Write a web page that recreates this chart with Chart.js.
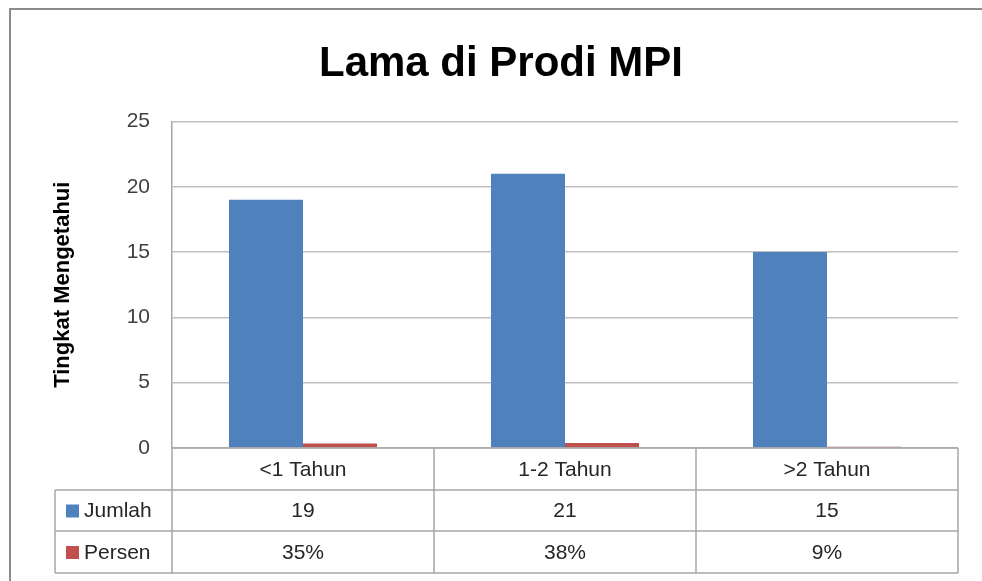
<!DOCTYPE html>
<html lang="id">
<head>
    <meta charset="UTF-8">
    <title>Lama di Prodi MPI</title>
    <style>
        html, body {
            margin: 0;
            padding: 0;
            background: #fff;
        }
        #wrap {
            width: 982px;
            height: 581px;
        }
    </style>
    <script src="https://cdn.jsdelivr.net/npm/chart.js"></script>
</head>
<body>
    <div id="wrap"><canvas id="myChart"></canvas></div>

    <script>
        // data
        const categories = ['<1 Tahun', '1-2 Tahun', '>2 Tahun'];
        const jumlah = [19, 21, 15];
        const persen = [0.35, 0.38, 0.09];   // Excel plotted the % values as fractions
        const yTicks = [0, 5, 10, 15, 20, 25];

        const seriesNames = ['Jumlah', 'Persen'];
        const seriesColors = ['#4F81BD', '#C0504D'];
        const FONT = "'Liberation Sans', Arial, sans-serif";

        function fmtPct(v) {
            return Math.round(v * 100) + '%';
        }

        // frame + data table under the plot, positioned from the x scale
        const dataTable = {
            id: 'dataTable',
            afterDraw(chart) {
                const ctx = chart.ctx;
                const ca = chart.chartArea;
                const x = chart.scales.x;
                const n = categories.length;
                const half = (ca.right - ca.left) / n / 2;
                const rowY = [ca.bottom, ca.bottom + 42, ca.bottom + 83, ca.bottom + 125];
                const legendLeft = 55;

                ctx.save();
                // outer chart frame (only top and left visible in the crop)
                ctx.strokeStyle = '#8c8c8c';
                ctx.lineWidth = 2;
                ctx.beginPath();
                ctx.moveTo(10, 581);
                ctx.lineTo(10, 9);
                ctx.lineTo(982, 9);
                ctx.stroke();

                // table grid
                ctx.strokeStyle = '#a6a6a6';
                ctx.lineWidth = 1.5;
                ctx.beginPath();
                ctx.moveTo(ca.left, rowY[0]);
                ctx.lineTo(ca.right, rowY[0]);
                for (let r = 1; r < rowY.length; r++) {
                    ctx.moveTo(legendLeft, rowY[r]);
                    ctx.lineTo(ca.right, rowY[r]);
                }
                ctx.moveTo(legendLeft, rowY[1]);
                ctx.lineTo(legendLeft, rowY[3]);
                ctx.moveTo(ca.left, rowY[0]);
                ctx.lineTo(ca.left, rowY[3]);
                for (let i = 0; i < n; i++) {
                    const edge = x.getPixelForValue(i) + half;
                    ctx.moveTo(edge, rowY[0]);
                    ctx.lineTo(edge, rowY[3]);
                }
                ctx.stroke();

                // cell text
                ctx.fillStyle = '#262626';
                ctx.font = '21px ' + FONT;
                ctx.textAlign = 'center';
                ctx.textBaseline = 'middle';
                const rows = [categories, jumlah.map(String), persen.map(fmtPct)];
                rows.forEach((vals, r) => {
                    const cy = (rowY[r] + rowY[r + 1]) / 2 + 1;
                    vals.forEach((v, i) => {
                        ctx.fillText(v, x.getPixelForValue(i), cy);
                    });
                });

                // legend keys in the first column
                ctx.textAlign = 'left';
                seriesNames.forEach((name, s) => {
                    const cy = (rowY[s + 1] + rowY[s + 2]) / 2;
                    ctx.fillStyle = seriesColors[s];
                    ctx.fillRect(66, cy - 6, 13, 13);
                    ctx.fillStyle = '#262626';
                    ctx.fillText(name, 84, cy + 1);
                });
                ctx.restore();
            }
        };

        const ctx = document.getElementById('myChart').getContext('2d');
        const myChart = new Chart(ctx, {
            type: 'bar',
            data: {
                labels: categories,
                datasets: [
                    {
                        label: seriesNames[0],
                        data: jumlah,
                        backgroundColor: seriesColors[0],
                        categoryPercentage: 0.565,
                        barPercentage: 1.0
                    },
                    {
                        label: seriesNames[1],
                        data: persen,
                        backgroundColor: seriesColors[1],
                        categoryPercentage: 0.565,
                        barPercentage: 1.0
                    }
                ]
            },
            options: {
                responsive: true,
                maintainAspectRatio: false,
                animation: false,
                layout: {
                    padding: { top: 39, left: 44, right: 24, bottom: 133 }
                },
                plugins: {
                    legend: { display: false },
                    tooltip: { enabled: false },
                    title: {
                        display: true,
                        text: 'Lama di Prodi MPI',
                        color: '#000',
                        font: { family: FONT, size: 42, weight: 'bold' },
                        padding: { top: 0, bottom: 32 }
                    }
                },
                scales: {
                    x: {
                        display: false
                    },
                    y: {
                        min: 0,
                        max: 25,
                        afterBuildTicks(scale) {
                            scale.ticks = yTicks.map(v => ({ value: v }));
                        },
                        afterFit(scale) {
                            scale.width = 128;
                        },
                        grid: {
                            color: '#bfbfbf',
                            lineWidth: 1.5,
                            drawTicks: false
                        },
                        border: { color: '#a6a6a6', width: 1.5 },
                        ticks: {
                            padding: 22,
                            color: '#404040',
                            font: { family: FONT, size: 21 }
                        },
                        title: {
                            display: true,
                            text: 'Tingkat Mengetahui',
                            color: '#000',
                            font: { family: FONT, size: 22, weight: 'bold' },
                            padding: { top: 6, bottom: 0 }
                        }
                    }
                }
            },
            plugins: [dataTable]
        });
    </script>
</body>
</html>
